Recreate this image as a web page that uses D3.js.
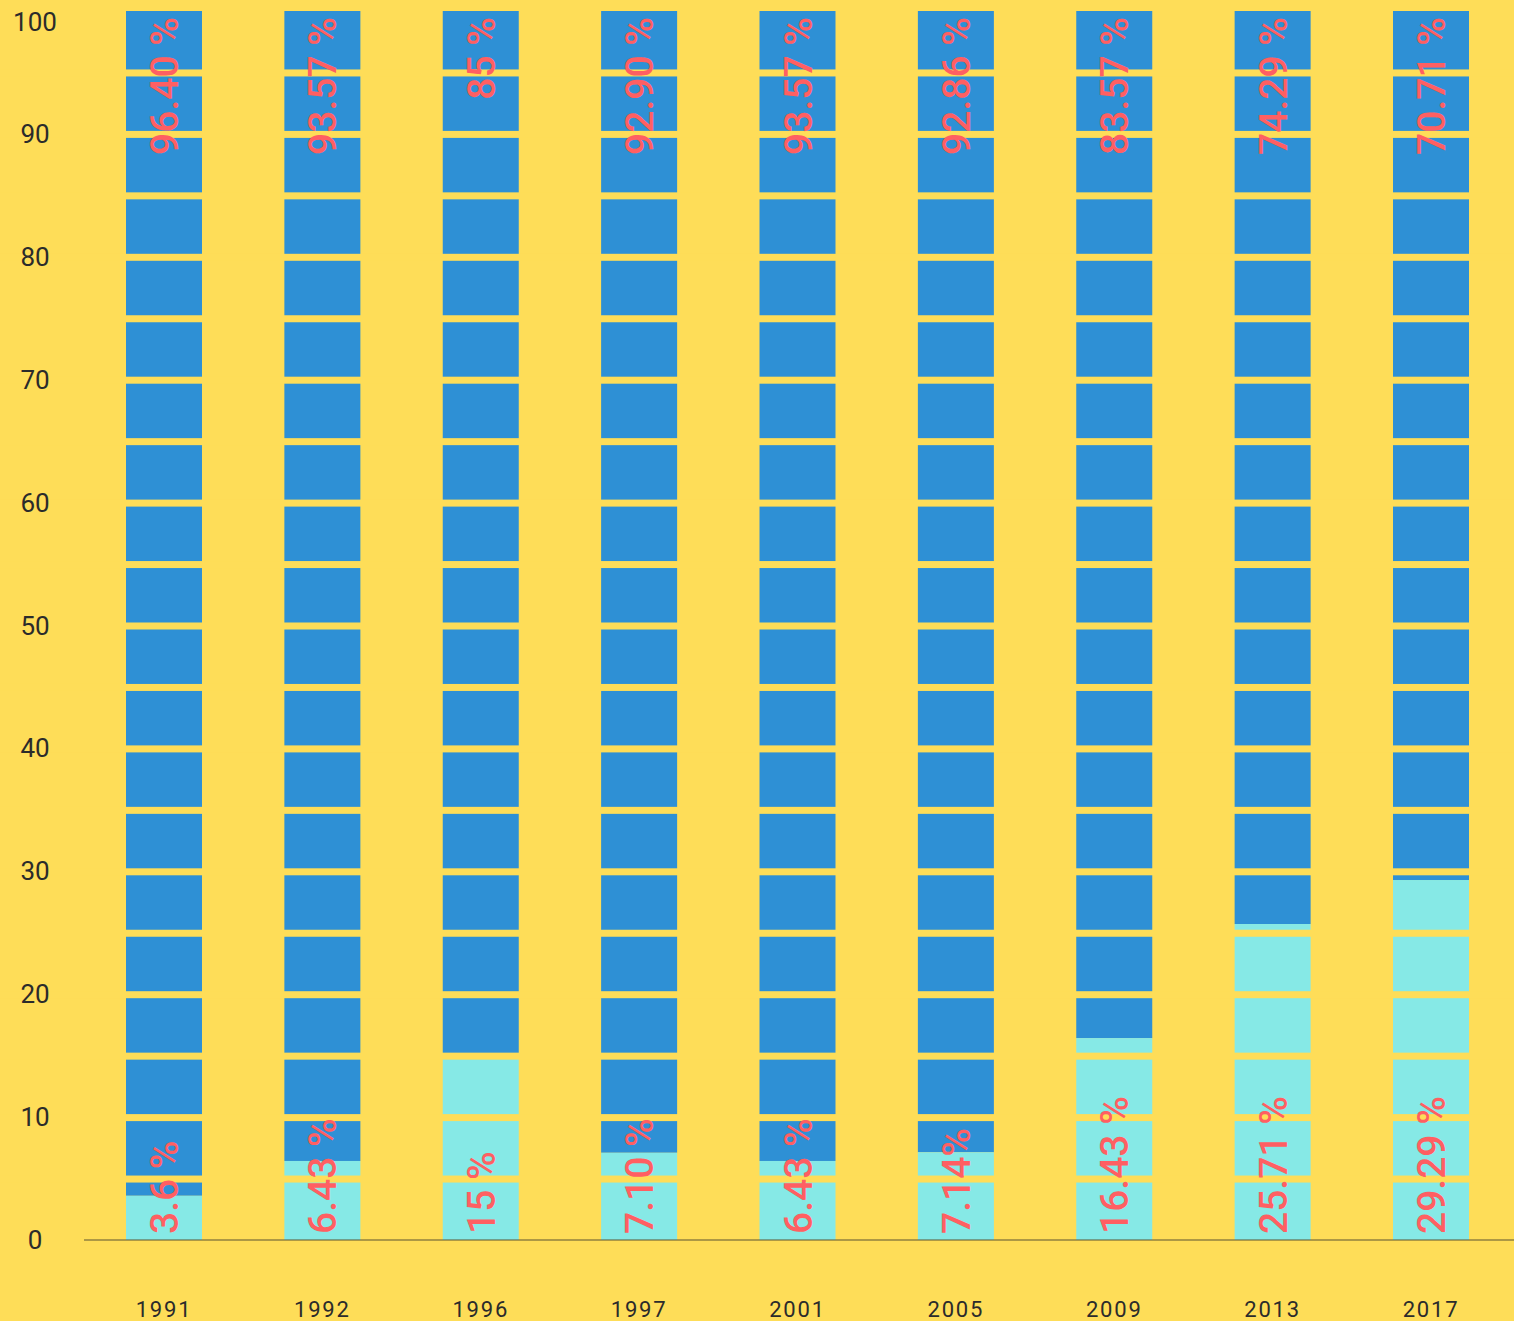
<!DOCTYPE html>
<html><head><meta charset="utf-8">
<script src="https://cdn.jsdelivr.net/npm/d3@7"></script>
<style>
html,body{margin:0;padding:0;background:#FEDD58;}
svg{display:block;}
</style></head>
<body>
<svg id="chart" width="1514" height="1321"></svg>
<script>
const years = ["1991","1992","1996","1997","2001","2005","2009","2013","2017"];
const lowerValues = [3.6, 6.43, 15, 7.10, 6.43, 7.14, 16.43, 25.71, 29.29];
const upperValues = [96.40, 93.57, 85, 92.90, 93.57, 92.86, 83.57, 74.29, 70.71];
const lowerLabels = ["3.6 %","6.43 %","15 %","7.10 %","6.43 %","7.14%","16.43 %","25.71 %","29.29 %"];
const upperLabels = ["96.40 %","93.57 %","85 %","92.90 %","93.57 %","92.86 %","83.57 %","74.29 %","70.71 %"];
const yTicks = [0,10,20,30,40,50,60,70,80,90,100];
const stripeValues = d3.range(5, 100, 5);

const bg = "#FEDD58", blue = "#2E90D5", cyan = "#86E9E6", red = "#FF5F62", ink = "#2b2b2b";
const svg = d3.select("#chart");

const x = d3.scalePoint().domain(years).range([164, 1431]);
const bw = 76;
const y = d3.scaleLinear().domain([0,100]).range([1240, 11]);

// bars
const g = svg.append("g");
years.forEach((yr, i) => {
  const cx = x(yr);
  g.append("rect").attr("x", cx - bw/2).attr("width", bw)
    .attr("y", y(100)).attr("height", y(lowerValues[i]) - y(100))
    .attr("fill", blue);
  g.append("rect").attr("x", cx - bw/2).attr("width", bw)
    .attr("y", y(lowerValues[i])).attr("height", y(0) - y(lowerValues[i]))
    .attr("fill", cyan);
});

// horizontal background stripes splitting segments
svg.append("g").selectAll("rect").data(stripeValues).join("rect")
  .attr("x", 0).attr("width", 1514)
  .attr("y", d => y(d) - 3).attr("height", 7)
  .attr("fill", bg);

// axis line
svg.append("line").attr("x1", 84).attr("x2", 1514)
  .attr("y1", y(0)).attr("y2", y(0))
  .attr("stroke", "#5a5530").attr("stroke-width", 1.2);

// y tick labels
svg.append("g").selectAll("text").data(yTicks).join("text")
  .attr("x", 35).attr("y", d => d === 100 ? y(d) + 11 : y(d))
  .attr("text-anchor", "middle").attr("dominant-baseline", "central")
  .attr("font-family", "Roboto, 'Liberation Sans', sans-serif")
  .attr("font-size", 26).attr("fill", ink)
  .text(d => d);

// x labels
svg.append("g").selectAll("text").data(years).join("text")
  .attr("x", d => x(d)).attr("y", 1309)
  .attr("text-anchor", "middle").attr("dominant-baseline", "central")
  .attr("font-family", "Roboto, 'Liberation Sans', sans-serif")
  .attr("font-size", 22).attr("letter-spacing", 1.8).attr("fill", ink)
  .text(d => d);

// value labels (rotated)
const lab = svg.append("g")
  .attr("font-family", "Roboto, 'Liberation Sans', sans-serif")
  .attr("font-size", 39).attr("font-weight", 500).attr("fill", red);
years.forEach((yr, i) => {
  const cx = x(yr);
  lab.append("text")
    .attr("transform", `translate(${cx + 14},${y(0) - 6}) rotate(-90)`)
    .attr("text-anchor", "start")
    .text(lowerLabels[i]);
  lab.append("text")
    .attr("transform", `translate(${cx + 14},${y(100) + 6}) rotate(-90)`)
    .attr("text-anchor", "end")
    .text(upperLabels[i]);
});
</script>
</body></html>
